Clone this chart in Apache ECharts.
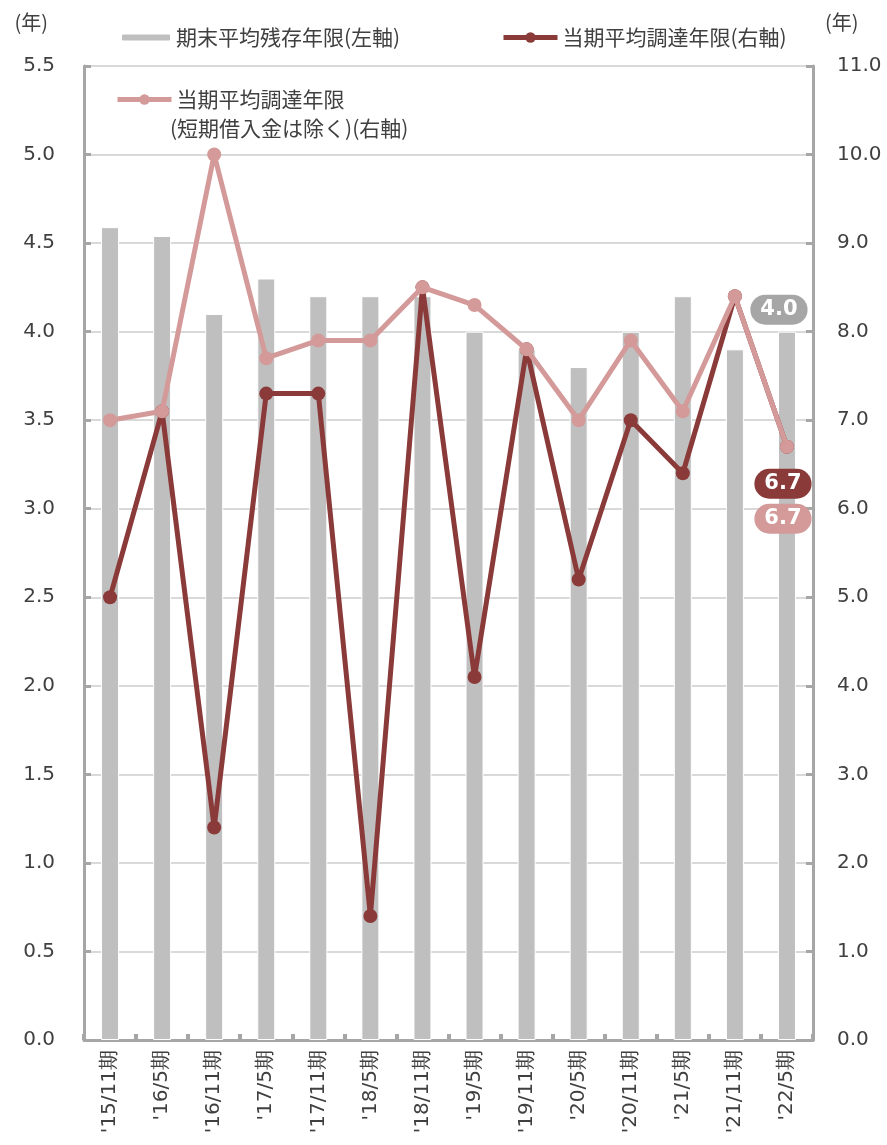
<!DOCTYPE html>
<html>
<head>
<meta charset="utf-8">
<script src="https://cdn.jsdelivr.net/npm/echarts@6/dist/echarts.min.js"></script>
<style>
  html, body { margin: 0; padding: 0; background: #ffffff; }
  #chart { width: 887px; height: 1145px; }
</style>
</head>
<body>
<div id="chart"></div>
<script>
// Fiscal periods
const categories = ["'15/11期", "'16/5期", "'16/11期", "'17/5期", "'17/11期", "'18/5期", "'18/11期",
                    "'19/5期", "'19/11期", "'20/5期", "'20/11期", "'21/5期", "'21/11期", "'22/5期"];
// 期末平均残存年限 (left axis, years)
const remainingYears = [4.59, 4.54, 4.1, 4.3, 4.2, 4.2, 4.2, 4.0, 3.9, 3.8, 4.0, 4.2, 3.9, 4.0];
// 当期平均調達年限 (right axis, years)
const fundingYears = [5.0, 7.1, 2.4, 7.3, 7.3, 1.4, 8.5, 4.1, 7.8, 5.2, 7.0, 6.4, 8.4, 6.7];
// 当期平均調達年限（短期借入金は除く） (right axis, years)
const fundingYearsExShort = [7.0, 7.1, 10.0, 7.7, 7.9, 7.9, 8.5, 8.3, 7.8, 7.0, 7.9, 7.1, 8.4, 6.7];
// Axis ticks
const leftTicks = { min: 0, max: 5.5, interval: 0.5 };
const rightTicks = { min: 0, max: 11, interval: 1 };

const NAME_BAR = '期末平均残存年限(左軸)';
const NAME_DARK = '当期平均調達年限(右軸)';
const NAME_PINK = '当期平均調達年限(短期借入金は除く)(右軸)';

const GRAY = '#bfbfbf';
const AXIS = '#a6a6a6';
const DARK = '#8b3a3a';
const PINK = '#d49a9a';
const TEXT = '#404040';
const NUM_FONT = '"DejaVu Sans", Verdana, sans-serif';
const JP_FONT = '"Noto Sans CJK JP", "Noto Sans", sans-serif';

const last = categories.length - 1;

function endLabel(bg, dist) {
  return {
    show: true,
    position: 'bottom',
    distance: dist,
    offset: [-4, 0],
    formatter: p => p.value.toFixed(1),
    color: '#ffffff',
    fontFamily: NUM_FONT,
    fontWeight: 'bold',
    fontSize: 21,
    lineHeight: 24,
    backgroundColor: bg,
    borderRadius: 15,
    padding: [3, 10, 3, 10]
  };
}

const barData = remainingYears.map((v, i) => i === last ? {
  value: v,
  label: {
    show: true, position: 'top', distance: 7, offset: [-8, 0],
    formatter: p => p.value.toFixed(1),
    color: '#ffffff', fontFamily: NUM_FONT, fontWeight: 'bold', fontSize: 21, lineHeight: 24,
    backgroundColor: '#a6a6a6', borderRadius: 15, padding: [3, 10, 3, 10]
  }
} : v);

const darkData = fundingYears.map((v, i) => i === last ? { value: v, label: endLabel(DARK, 15) } : v);
const pinkData = fundingYearsExShort.map((v, i) => i === last ? { value: v, label: endLabel(PINK, 50) } : v);

const legendText = { fontFamily: JP_FONT, fontSize: 21, color: TEXT };

const chart = echarts.init(document.getElementById('chart'), null, { renderer: 'canvas' });

chart.setOption({
  animation: false,
  backgroundColor: '#ffffff',
  grid: { left: 84, right: 74, top: 66, bottom: 105, containLabel: false },
  legend: [
    {
      data: [NAME_BAR], left: 115, top: 22, itemWidth: 50, itemHeight: 8, itemGap: 6,
      textStyle: legendText
    },
    {
      data: [NAME_DARK], left: 496, top: 22, itemWidth: 54, itemHeight: 13, itemGap: 6,
      lineStyle: { width: 5 },
      textStyle: legendText
    },
    {
      data: [NAME_PINK], left: 110, top: 84, itemWidth: 54, itemHeight: 13, itemGap: 6,
      lineStyle: { width: 5 },
      formatter: () => '当期平均調達年限',
      textStyle: legendText
    }
  ],
  graphic: [
    {
      type: 'text', left: 170, top: 118,
      style: { text: '(短期借入金は除く)(右軸)', font: '21px ' + JP_FONT, fill: TEXT }
    }
  ],
  xAxis: {
    type: 'category',
    data: categories,
    boundaryGap: true,
    axisLine: { lineStyle: { color: AXIS, width: 3 } },
    axisTick: { show: true, inside: true, length: 6, alignWithLabel: false, lineStyle: { color: AXIS, width: 4 } },
    axisLabel: {
      rotate: 90, margin: 10, interval: 0,
      fontFamily: NUM_FONT, fontSize: 20, color: TEXT
    },
    splitLine: { show: false }
  },
  yAxis: [
    {
      type: 'value',
      min: leftTicks.min, max: leftTicks.max, interval: leftTicks.interval,
      name: '(年)', nameLocation: 'end', nameGap: 34,
      nameTextStyle: { fontFamily: JP_FONT, fontSize: 20, color: TEXT, align: 'right', padding: [0, 36, 0, 0] },
      axisLine: { show: true, lineStyle: { color: AXIS, width: 3 } },
      axisTick: { show: true, inside: true, length: 7, lineStyle: { color: AXIS, width: 3 } },
      axisLabel: { margin: 29, fontFamily: NUM_FONT, fontSize: 20, color: TEXT, formatter: v => v.toFixed(1) },
      splitLine: { show: true, lineStyle: { color: '#d9d9d9', width: 2 } }
    },
    {
      type: 'value',
      min: rightTicks.min, max: rightTicks.max, interval: rightTicks.interval,
      name: '(年)', nameLocation: 'end', nameGap: 34,
      nameTextStyle: { fontFamily: JP_FONT, fontSize: 20, color: TEXT, align: 'left', padding: [0, 0, 0, 12] },
      axisLine: { show: true, lineStyle: { color: AXIS, width: 3 } },
      axisTick: { show: true, inside: true, length: 7, lineStyle: { color: AXIS, width: 3 } },
      axisLabel: { margin: 24, fontFamily: NUM_FONT, fontSize: 20, color: TEXT, formatter: v => v.toFixed(1) },
      splitLine: { show: false }
    }
  ],
  series: [
    {
      name: NAME_BAR,
      type: 'bar',
      yAxisIndex: 0,
      data: barData,
      barWidth: 18,
      itemStyle: { color: GRAY, borderColor: '#ffffff', borderWidth: 1 },
      z: 2
    },
    {
      name: NAME_DARK,
      type: 'line',
      yAxisIndex: 1,
      data: darkData,
      symbol: 'circle',
      symbolSize: 14,
      lineStyle: { color: DARK, width: 5 },
      itemStyle: { color: DARK },
      z: 3
    },
    {
      name: NAME_PINK,
      type: 'line',
      yAxisIndex: 1,
      data: pinkData,
      symbol: 'circle',
      symbolSize: 14,
      lineStyle: { color: PINK, width: 5 },
      itemStyle: { color: PINK },
      z: 4
    }
  ]
});
</script>
</body>
</html>
